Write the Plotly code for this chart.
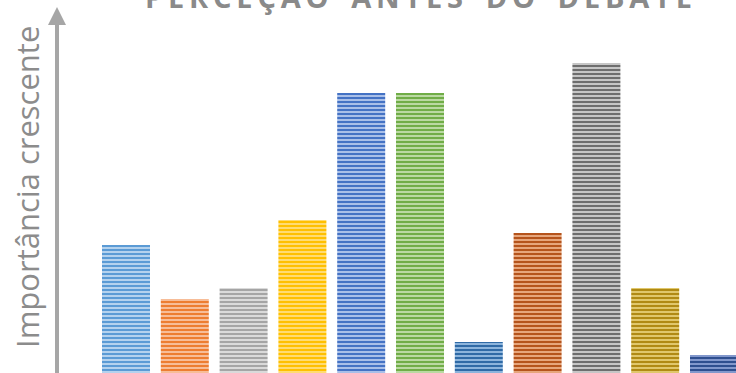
import plotly.graph_objects as go

categories = ["C1", "C2", "C3", "C4", "C5", "C6", "C7", "C8", "C9", "C10", "C11"]
importance = [128, 74, 85, 153, 280, 280, 31, 140, 310, 85, 18]
dark_colors = ["#5b9bd5", "#ed7d31", "#a5a5a5", "#ffc000", "#4472c4", "#70ad47",
               "#2f6aa6", "#b5541c", "#6e6e6e", "#b08a14", "#2f4f8f"]
light_colors = ["#b4d2ee", "#f7bd98", "#dadada", "#ffdc73", "#a9bfe8", "#bad9a2",
                "#8cb4dc", "#e6a67c", "#c6c6c6", "#e0c76c", "#8298cc"]
title_text = "PERCEÇÃO ANTES DO DEBATE"
ylabel_text = "Importância crescente"

W, H = 736, 373
pitch = 58.8
first_center = 126
x0 = -first_center / pitch
x1 = x0 + W / pitch

fig = go.Figure()
for cat, val, dc, lc in zip(categories, importance, dark_colors, light_colors):
    fig.add_trace(go.Bar(
        x=[cat], y=[val],
        marker=dict(
            color=lc,
            line=dict(width=0),
            pattern=dict(shape="-", fgcolor=dc, bgcolor=lc,
                         size=4, solidity=0.5, fillmode="replace"),
        ),
        hoverinfo="skip",
    ))

spaced = "   ".join("\u2009".join(list(w)) for w in title_text.split(" "))

fig.update_layout(
    width=W, height=H,
    margin=dict(l=0, r=0, t=0, b=0),
    paper_bgcolor="white", plot_bgcolor="white",
    barmode="overlay",
    bargap=1 - 48 / pitch,
    showlegend=False,
    xaxis=dict(range=[x0, x1], showticklabels=False, showgrid=False,
               zeroline=False, showline=False, ticks="",
               categoryorder="array", categoryarray=categories),
    yaxis=dict(range=[0, H], showticklabels=False, showgrid=False,
               zeroline=False, showline=False, ticks=""),
    annotations=[
        dict(text="<b>" + spaced + "</b>", xref="paper", yref="paper",
             x=419 / W, y=1 - 7 / H, xanchor="center", yanchor="bottom",
             showarrow=False, yshift=-11,
             font=dict(family="Open Sans", size=29, color="#8a8a8a")),
        dict(text=ylabel_text, xref="paper", yref="paper",
             x=27 / W, y=1 - 187 / H, xanchor="center", yanchor="middle",
             textangle=-90, showarrow=False,
             font=dict(family="Open Sans", size=31, color="#8c8c8c")),
    ],
    shapes=[
        dict(type="line", xref="paper", yref="paper",
             x0=57 / W, x1=57 / W, y0=0, y1=1 - 24 / H,
             line=dict(color="#a6a6a6", width=4)),
        dict(type="path", xref="paper", yref="paper",
             path=f"M {48/W},{1-25/H} L {57/W},{1-7/H} L {66/W},{1-25/H} Z",
             fillcolor="#a6a6a6", line=dict(width=0)),
    ],
)

fig.write_html("out.html")
